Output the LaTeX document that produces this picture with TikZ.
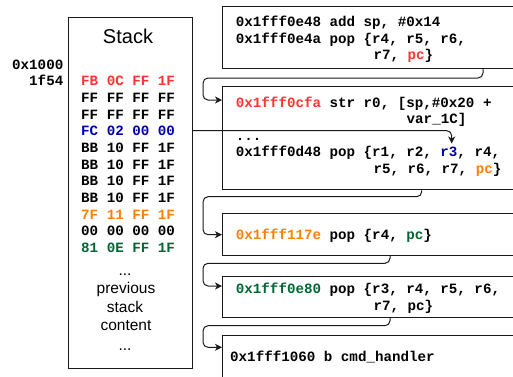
\documentclass[tikz,border=0pt]{standalone}
\usepackage{fontspec}
\setmainfont{Liberation Sans}
\newfontfamily\codefont{Liberation Mono}
\usetikzlibrary{arrows.meta}
\definecolor{cred}{HTML}{FF3333}
\definecolor{cblue}{HTML}{0000AA}
\definecolor{corange}{HTML}{FF8000}
\definecolor{cgreen}{HTML}{006633}
\definecolor{lineclr}{HTML}{1A1A1A}
\tikzset{
  code/.style={font=\codefont\bfseries\fontsize{14.2}{17}\selectfont, anchor=base west, inner sep=0pt},
  sans/.style={font=\fontsize{15.5}{18}\selectfont, anchor=base, inner sep=0pt},
  box/.style={draw=lineclr, line width=1pt, anchor=north west, inner sep=0pt, minimum width=330pt},
  conn/.style={draw=lineclr, line width=1pt, rounded corners=5pt, -{Stealth[length=7pt,width=7pt,inset=2pt]}}
}
\begin{document}
\begin{tikzpicture}[x=1pt,y=-1pt]
\useasboundingbox (0,0) rectangle (513,376);
\clip (0,0) rectangle (513,376);

% stack
\node[draw=lineclr, line width=1pt, anchor=north west, inner sep=0pt,
      minimum width=124pt, minimum height=350.5pt] (stack) at (68,17) {};
\node[font=\fontsize{20}{24}\selectfont, anchor=base, inner sep=0pt] (stacklbl) at (128,43) {Stack};
\node[code, anchor=base east] (addra) at (63.5,69.5) {0x1000};
\node[code, anchor=base east] (addrb) at (63.5,85.5) {1f54};

\node[code] (r1) at (81,85.5) {\textcolor{cred}{FB 0C FF 1F}};
\node[code] (r2) at (81,102.2) {FF FF FF FF};
\node[code] (r3) at (81,119) {FF FF FF FF};
\node[code] (r4) at (81,135.7) {\textcolor{cblue}{FC 02 00 00}};
\node[code] (r5) at (81,152.4) {BB 10 FF 1F};
\node[code] (r6) at (81,169.1) {BB 10 FF 1F};
\node[code] (r7) at (81,185.8) {BB 10 FF 1F};
\node[code] (r8) at (81,202.5) {BB 10 FF 1F};
\node[code] (r9) at (81,219.2) {\textcolor{corange}{7F 11 FF 1F}};
\node[code] (r10) at (81,235.9) {00 00 00 00};
\node[code] (r11) at (81,252.6) {\textcolor{cgreen}{81 0E FF 1F}};

\node[sans] (p1) at (125,275) {...};
\node[sans] (p2) at (126,293.3) {previous};
\node[sans] (p3) at (125,312) {stack};
\node[sans] (p4) at (126,330.7) {content};
\node[sans] (p5) at (125,350) {...};

% code boxes
\node[box, minimum height=61.7pt] (b1) at (222,6) {};
\node[box, minimum height=103.3pt] (b2) at (222,86) {};
\node[box, minimum height=41.7pt] (b3) at (222,213.3) {};
\node[box, minimum height=41pt] (b4) at (222,275.7) {};
\node[box, minimum height=60pt] (b5) at (222,335) {};

\node[code] (c1a) at (235.7,26) {0x1fff0e48 add sp, \#0x14};
\node[code] (c1b) at (235.7,43) {0x1fff0e4a pop \{r4, r5, r6,};
\node[code] (c1c) at (373.3,59.5) {r7, \textcolor{cred}{pc}\}};

\node[code] (c2a) at (235.7,107.3) {\textcolor{cred}{0x1fff0cfa} str r0, [sp,\#0x20 +};
\node[code] (c2b) at (406.5,123.5) {var\_1C]};
\node[code] (c2c) at (235.7,140) {...};
\node[code] (c2d) at (235.7,156.7) {0x1fff0d48 pop \{r1, r2, \textcolor{cblue}{r3}, r4,};
\node[code] (c2e) at (373.3,173.3) {r5, r6, r7, \textcolor{corange}{pc}\}};

\node[code] (c3) at (235.7,239.3) {\textcolor{corange}{0x1fff117e} pop \{r4, \textcolor{cgreen}{pc}\}};

\node[code] (c4a) at (235.7,293.3) {\textcolor{cgreen}{0x1fff0e80} pop \{r3, r4, r5, r6,};
\node[code] (c4b) at (373.3,310) {r7, pc\}};

\node[code] (c5) at (230,361) {0x1fff1060 b cmd\_handler};

% connectors
\coordinate (k1) at (203,78);
\coordinate (k2) at (203,196.7);
\coordinate (k3) at (203,263.3);
\coordinate (k4) at (203,325.7);
\coordinate (tipr3) at (451.7,143.5);

\draw[conn] ([xshift=261pt]b1.south west) |- (k1) |- ([yshift=-14pt]b2.north west);
\draw[conn] ([xshift=199.7pt]b2.south west) |- (k2) |- (b3.west);
\draw[conn] ([xshift=168pt]b3.south west) |- (k3) |- ([yshift=-10.3pt]b4.north west);
\draw[conn] ([xshift=168pt]b4.south west) |- (k4) |- ([yshift=-12.3pt]b5.north west);

\draw[conn] (stack.east |- 0,130.7) -| (tipr3);
\end{tikzpicture}
\end{document}
